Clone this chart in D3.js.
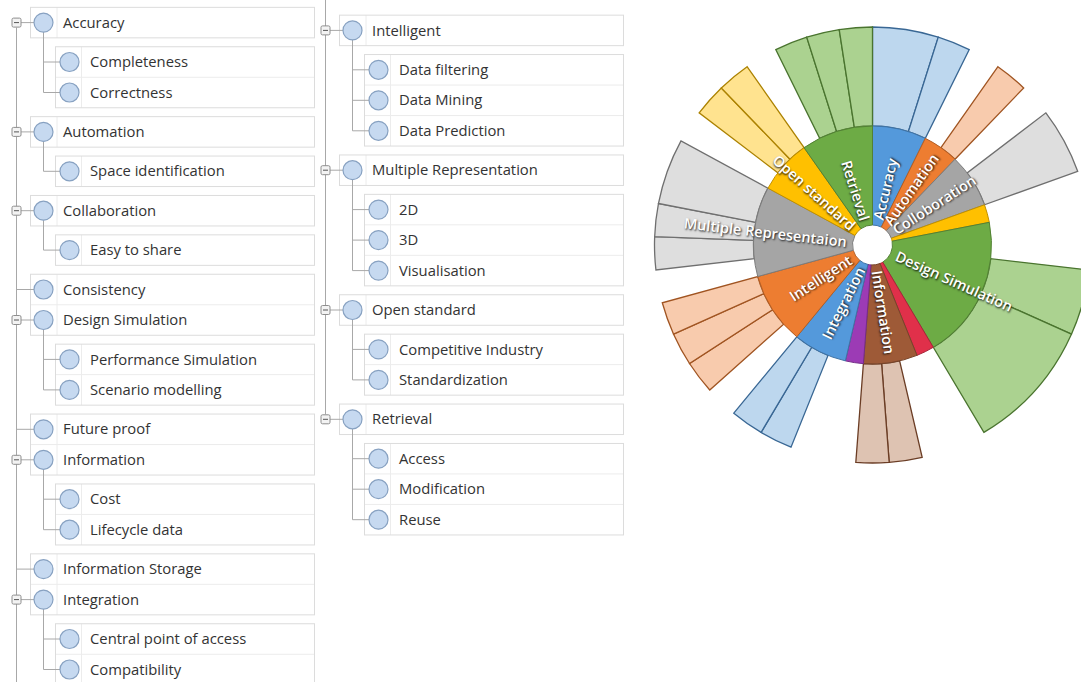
<!DOCTYPE html>
<html><head><meta charset="utf-8">
<script src="https://cdn.jsdelivr.net/npm/d3@7"></script>
<style>
html,body{margin:0;padding:0;background:#fff;}
svg{display:block;}
.tree text{font-family:"Open Sans",sans-serif;font-size:14.8px;fill:#333;}
.lbl{font-family:"Open Sans",sans-serif;font-weight:600;font-size:14.5px;fill:#fff;text-shadow:1px 1px 2px rgba(0,0,0,.85);}
</style></head><body>
<svg id="c" width="1081" height="682"></svg>
<script>
// ---------- data ----------
const parents = ["Accuracy","Automation","Collaboration","Consistency","Design Simulation","Future proof","Information","Information Storage","Integration","Intelligent","Multiple Representation","Open standard","Retrieval"];
// labels as printed on the chart (original spelling kept)
const chartLabels = ["Accuracy","Automation","Colloboration","","Design Simulation","","Information","","Integration","Intelligent","Multiple Representaion","Open standard","Retrieval"];
// references coded directly at the parent node
const parentOwnRefs = [0,1,1,1,2,1,1,1,1,1,1,1,1];
const childNames = [
  ["Completeness","Correctness"],
  ["Space identification"],
  ["Easy to share"],
  [],
  ["Performance Simulation","Scenario modelling"],
  [],
  ["Cost","Lifecycle data"],
  [],
  ["Central point of access","Compatibility"],
  ["Data filtering","Data Mining","Data Prediction"],
  ["2D","3D","Visualisation"],
  ["Competitive Industry","Standardization"],
  ["Access","Modification","Reuse"]
];
const childRefs = [[2,1],[1],[2],[],[2,4],[],[1,1],[],[1,1],[1,1,1],[1,1,2],[1,1],[1,1,1]];
const innerColors = ["#5499DB","#ED7D31","#A5A5A5","#FFC000","#6DAB45","#E0304A","#9E5A37","#9C3BB5"];
const outerColors = ["#BDD7EE","#F8CBAD","#DEDEDE","#FFE38F","#ABD290","#F2A7B2","#DEC3B2","#D8B2E4"];
const firstColumnCount = 9; // parents shown in the left tree column

// ---------- setup ----------
const svg = d3.select("#c");

// ---------- tree view ----------
const ROW_H = 30.5, GAP = 8.9;
const lineCol = "#A8A8A8", boxCol = "#DCDCDC", sepCol = "#ECECEC";
function buildRows(idxs){
  const rows = [];
  idxs.forEach(i => {
    rows.push({name: parents[i], level: 0, has: childNames[i].length > 0, pi: i});
    childNames[i].forEach(c => rows.push({name: c, level: 1, pi: i}));
  });
  return rows;
}
function drawColumn(idxs, ox, y0, trunkTop, trunkBottomToEnd){
  const g = svg.append("g").attr("class","tree");
  const rows = buildRows(idxs);
  let y = y0, prev = null;
  rows.forEach(r => { if (prev !== null) y += (r.level === prev ? ROW_H : ROW_H + GAP); r.y = y; prev = r.level; });
  // blocks
  const blocks = [];
  rows.forEach(r => {
    const b = blocks[blocks.length-1];
    if (b && b.level === r.level) b.rows.push(r); else blocks.push({level: r.level, rows: [r]});
  });
  blocks.forEach(b => {
    const x1 = ox + (b.level === 0 ? 30.5 : 55.5), x2 = ox + 314.5;
    const top = b.rows[0].y - ROW_H/2, bot = b.rows[b.rows.length-1].y + ROW_H/2;
    b.rows.slice(0,-1).forEach(r => g.append("line").attr("x1",x1).attr("x2",x2).attr("y1",r.y+ROW_H/2).attr("y2",r.y+ROW_H/2).attr("stroke",sepCol));
    const dv = ox + (b.level === 0 ? 57 : 81.5);
    g.append("line").attr("x1",dv).attr("x2",dv).attr("y1",top).attr("y2",bot).attr("stroke",sepCol);
    g.append("rect").attr("x",x1).attr("y",top).attr("width",x2-x1).attr("height",bot-top).attr("fill","none").attr("stroke",boxCol);
  });
  const l0 = rows.filter(r => r.level === 0);
  // trunk
  const tx = ox + 16.5;
  g.append("line").attr("x1",tx).attr("x2",tx)
    .attr("y1", trunkTop === null ? l0[0].y + 5 : trunkTop)
    .attr("y2", trunkBottomToEnd ? 682 : l0[l0.length-1].y - 5)
    .attr("stroke",lineCol);
  l0.forEach(r => {
    g.append("line").attr("x1", r.has ? tx+4.5 : tx).attr("x2", ox+34).attr("y1", r.y).attr("y2", r.y).attr("stroke", lineCol);
    if (r.has) {
      g.append("rect").attr("x",tx-4.5).attr("y",r.y-4.5).attr("width",9).attr("height",9).attr("rx",1.5)
        .attr("fill","#F3F3F3").attr("stroke","#8E8E8E");
      g.append("line").attr("x1",tx-2.5).attr("x2",tx+2.5).attr("y1",r.y).attr("y2",r.y).attr("stroke","#555");
      const kids = rows.filter(k => k.level === 1 && k.pi === r.pi);
      const cx = ox + 43.5;
      g.append("line").attr("x1",cx).attr("x2",cx).attr("y1",r.y+9.5).attr("y2",kids[kids.length-1].y).attr("stroke",lineCol);
      kids.forEach(k => g.append("line").attr("x1",cx).attr("x2",ox+60).attr("y1",k.y).attr("y2",k.y).attr("stroke",lineCol));
    }
  });
  rows.forEach(r => {
    const cx = ox + (r.level === 0 ? 43.5 : 69.5);
    g.append("circle").attr("cx",cx).attr("cy",r.y).attr("r",9.5).attr("fill","#C6D9F0").attr("stroke","#87A1C1").attr("stroke-width",1.2);
    g.append("text").attr("x", ox + (r.level === 0 ? 63 : 90)).attr("y", r.y).attr("dy","0.35em").text(r.name);
  });
}
drawColumn(d3.range(0, firstColumnCount), 0, 22.6, null, true);
drawColumn(d3.range(firstColumnCount, parents.length), 309, 30.4, 0, false);

// ---------- sunburst ----------
const rootData = {name: "root", own: 0, children: parents.map((p,i) => ({
  name: p, label: chartLabels[i], idx: i, own: parentOwnRefs[i],
  children: childNames[i].map((c,j) => ({name: c, idx: i, own: childRefs[i][j]}))
}))};
const root = d3.hierarchy(rootData).sum(d => d.own || 0);
d3.partition().size([2*Math.PI, 1])(root);
// children are aligned to the clockwise end of their parent
root.children.forEach(p => {
  if (p.children) {
    const off = p.x1 - p.children[p.children.length-1].x1;
    p.children.forEach(c => { c.x0 += off; c.x1 += off; });
  }
});
const rScale = d3.scaleLinear().domain([0,1,2]).range([20,119,218]);
const arc = d3.arc()
  .startAngle(d => d.x0).endAngle(d => d.x1)
  .innerRadius(d => rScale(d.depth-1)).outerRadius(d => rScale(d.depth));
const cg = svg.append("g").attr("transform","translate(872.5,245)");
const nodes = root.descendants().filter(d => d.depth > 0);
cg.selectAll("path.outer").data(nodes.filter(d => d.depth === 2)).join("path")
  .attr("d", arc)
  .attr("fill", d => outerColors[d.data.idx % 8])
  .attr("stroke", d => d3.color(innerColors[d.data.idx % 8]).darker(1.1))
  .attr("stroke-width", 1.3);
cg.selectAll("path.inner").data(nodes.filter(d => d.depth === 1)).join("path")
  .attr("d", arc)
  .attr("fill", d => innerColors[d.data.idx % 8])
  .attr("stroke", d => d3.color(innerColors[d.data.idx % 8]).darker(0.8))
  .attr("stroke-width", 1);
cg.selectAll("text.lbl").data(nodes.filter(d => d.depth === 1 && d.data.label)).join("text")
  .attr("class","lbl")
  .attr("transform", d => {
    const a = (d.x0 + d.x1) / 2 * 180 / Math.PI;
    return a < 180 ? `rotate(${a-90}) translate(26,0)` : `rotate(${a+90}) translate(-26,0)`;
  })
  .attr("text-anchor", d => ((d.x0 + d.x1) / 2 * 180 / Math.PI) < 180 ? "start" : "end")
  .attr("dy","0.35em")
  .text(d => d.data.label);
</script>
</body></html>
